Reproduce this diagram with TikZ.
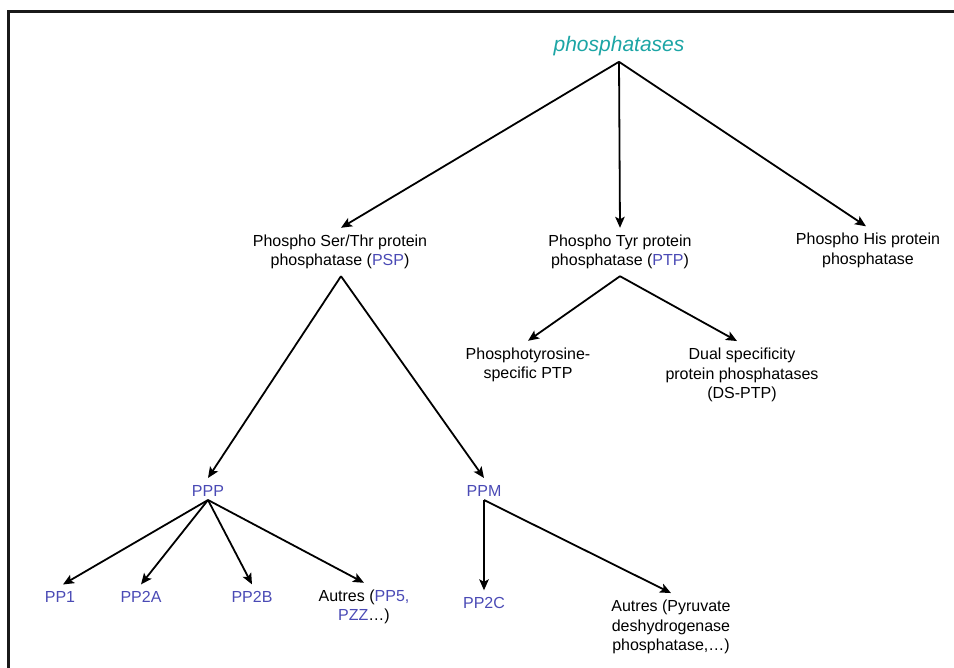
\documentclass[tikz,border=0pt]{standalone}
\usepackage{fontspec}
\setmainfont{Liberation Sans}
\usetikzlibrary{arrows.meta}
\definecolor{rootteal}{RGB}{28,165,165}
\definecolor{famblue}{RGB}{74,74,181}
\newcommand{\famname}[1]{\textcolor{famblue}{#1}}
\begin{document}
\begin{tikzpicture}[x=1pt,y=-1pt,
  label/.style={align=center,inner sep=0pt,outer sep=7pt,
    font=\fontsize{16}{19.5}\selectfont},
  fam/.style={label,text=famblue},
  arr/.style={line width=1.8pt,-{Stealth[length=11pt,width=9.5pt,inset=2.5pt]}}]
\useasboundingbox (0,0) rectangle (954,668);
% frame
\draw[line width=2.6pt,black!90] (8.5,668) -- (8.5,11.5) -- (954,11.5);

% level 0
\node[label,text=rootteal,font=\fontsize{21}{25}\selectfont\itshape] (root) at (619,46) {phosphatases};

% level 1
\node[label] (psp) at (340,252) {Phospho Ser/Thr protein\\phosphatase (\famname{PSP})};
\node[label] (ptp) at (620,252) {Phospho Tyr protein\\phosphatase (\famname{PTP})};
\node[label] (his) at (868,250.5) {Phospho His protein\\phosphatase};

% PTP branches
\node[label] (ptys) at (528,365) {Phosphotyrosine-\\specific PTP};
\node[label] (dsptp) at (742,375) {Dual specificity\\protein phosphatases\\(DS-PTP)};

% PSP branches
\node[fam] (ppp) at (208,490.5) {PPP};
\node[fam] (ppm) at (484,490.5) {PPM};

% PPP members
\node[fam] (pp1) at (60,597) {PP1};
\node[fam] (pp2a) at (141,597) {PP2A};
\node[fam] (pp2b) at (252,597) {PP2B};
\node[label] (autresppp) at (364,607) {Autres (\famname{PP5,}\\\famname{PZZ}…)};

% PPM members
\node[fam] (pp2c) at (484,603) {PP2C};
\node[label] (autresppm) at (671,627) {Autres (Pyruvate\\deshydrogenase\\phosphatase,…)};

% connectors
\coordinate (rootout) at ([yshift=1pt]root.south);
\draw[arr] (rootout) -- ([xshift=1pt]psp.north);
\draw[arr] (rootout) -- (ptp.north);
\draw[arr] (rootout) -- ([xshift=-2pt]his.north);

\coordinate (pspout) at ([xshift=1pt]psp.south);
\draw[arr] (pspout) -- (ppp.north);
\draw[arr] (pspout) -- (ppm.north);

\coordinate (ptpout) at (ptp.south);
\draw[arr] (ptpout) -- (ptys.north);
\draw[arr] (ptpout) -- ([xshift=-5pt]dsptp.north);

\coordinate (pppout) at ([yshift=3pt]ppp.south);
\draw[arr] (pppout) -- ([xshift=3pt]pp1.north);
\draw[arr] (pppout) -- (pp2a.north);
\draw[arr] (pppout) -- (pp2b.north);
\draw[arr] (pppout) -- (autresppp.north);

\coordinate (ppmout) at ([yshift=3pt]ppm.south);
\draw[arr] (ppmout) -- (pp2c.north);
\draw[arr] (ppmout) -- (autresppm.north);
\end{tikzpicture}
\end{document}
